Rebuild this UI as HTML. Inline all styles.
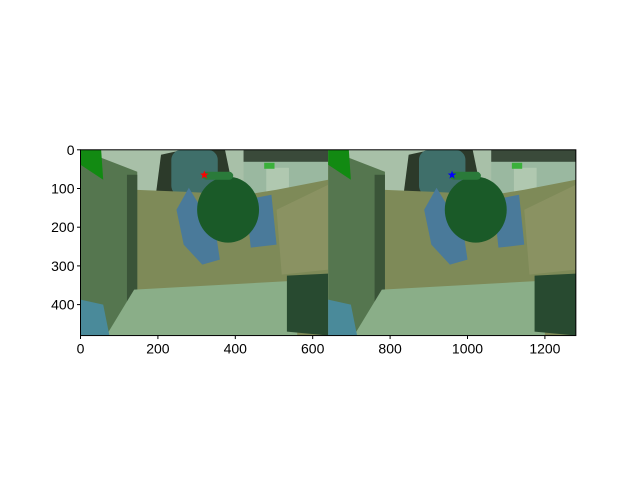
<!DOCTYPE html>
<html><head><meta charset="utf-8"><style>
body{margin:0;background:#fff;width:640px;height:480px;overflow:hidden}
svg text{font-family:"Liberation Sans","DejaVu Sans",sans-serif;font-size:14px;fill:#000}
</style></head><body>
<svg id="fig" width="640" height="480" viewBox="0 0 640 480">
<defs>
<g id="photo">
<rect x="0" y="0" width="240" height="186" fill="#7e8a58"/>
<rect x="15" y="0" width="145" height="52" fill="#a8c0a8"/>
<rect x="158" y="0" width="82" height="62" fill="#9ab8a0"/>
<rect x="158" y="0" width="82" height="12" fill="#3a4a3a"/>
<rect x="180" y="18" width="22" height="45" fill="#b0c8b0"/>
<rect x="178" y="13" width="10" height="6" fill="#3ab03a"/>
<path d="M73 45 L78 5 L100 0 L140 0 L148 40 Z" fill="#2c3a2a"/>
<rect x="88" y="0" width="45" height="46" rx="10" fill="#3f6f6a"/>
<path d="M52 40 L100 42 L160 45 L190 40 L240 30 L240 125 L200 128 L52 140 Z" fill="#7e8a58"/>
<path d="M190 60 L240 35 L240 120 L195 125 Z" fill="#8a9262"/>
<path d="M0 0 L55 22 L55 186 L0 186 Z" fill="#55764f"/>
<path d="M45 25 L55 25 L55 186 L45 186 Z" fill="#3a5438"/>
<path d="M0 0 L20 0 L22 30 L0 15 Z" fill="#128a12"/>
<path d="M93 60 L105 38 L115 55 L130 75 L135 110 L118 115 L100 95 Z" fill="#4a7a9a"/>
<path d="M160 50 L185 45 L190 95 L165 98 Z" fill="#4a7a9a"/>
<ellipse cx="143" cy="60" rx="30" ry="33" fill="#1a5a28"/>
<rect x="118" y="22" width="30" height="8" rx="4" fill="#2a7a3a"/>
<path d="M25 186 L52 140 L210 131 L210 186 Z" fill="#8aae88"/>
<path d="M200 126 L240 124 L240 186 L200 182 Z" fill="#284a30"/>
<path d="M0 150 L22 155 L28 186 L0 186 Z" fill="#4a8a9a"/>
</g>
</defs>
<g id="plot"></g>
</svg>
<script>
const xTicks=[0,200,400,600,800,1000,1200];
const yTicks=[0,100,200,300,400];
const imgW=1280, imgH=480, halfW=640;
const markerX=[320,960];
const markerY=[65,65];
const markerColors=['#ff0000','#0000ff'];
const L=80.5,T=149.8,SX=0.387,SY=0.387;
const X=v=>L+v*SX, Y=v=>T+v*SY;
const NS='http://www.w3.org/2000/svg';
const g=document.getElementById('plot');
function mk(t,a){const e=document.createElementNS(NS,t);for(const k in a)e.setAttribute(k,a[k]);g.appendChild(e);return e;}
for(let i=0;i<2;i++){
 const u=mk('use',{href:'#photo',transform:`translate(${X(i*halfW)},${T}) scale(${(halfW*SX)/240},${(imgH*SY)/186})`});
 
 
}
function star(cx,cy,r,c){let p=[];for(let k=0;k<10;k++){const rr=k%2?r*0.4:r;const a=-Math.PI/2+k*Math.PI/5;p.push((cx+rr*Math.cos(a)).toFixed(1)+','+(cy+rr*Math.sin(a)).toFixed(1));}return mk('polygon',{points:p.join(' '),fill:c});}
for(let i=0;i<markerX.length;i++){
 const s=star(X(markerX[i]),Y(markerY[i]),4.5,markerColors[i]);
 
 
}
const fr=mk('rect',{x:L,y:T,width:imgW*SX,height:imgH*SY,fill:'none',stroke:'#000','stroke-width':1});


xTicks.forEach(v=>{
 const tl=mk('line',{x1:X(v),x2:X(v),y1:T+imgH*SY,y2:T+imgH*SY+3.5,stroke:'#000'});
 
 
 const t=mk('text',{x:X(v),y:T+imgH*SY+18,'text-anchor':'middle'});t.textContent=v;
 
 
});
yTicks.forEach(v=>{
 const tl=mk('line',{x1:L-3.5,x2:L,y1:Y(v),y2:Y(v),stroke:'#000'});
 
 
 const t=mk('text',{x:L-6,y:Y(v)+5,'text-anchor':'end'});t.textContent=v;
 
 
});
</script>
</body></html>
